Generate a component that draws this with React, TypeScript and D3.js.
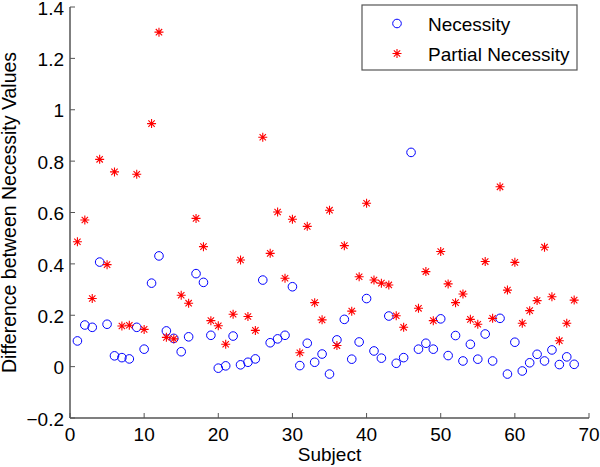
import React from "react";
import * as d3 from "d3";

const subjects: number[] = Array.from({ length: 68 }, (_, i) => i + 1);

const necessity: number[] = [
  0.100, 0.162, 0.153, 0.407, 0.165, 0.042, 0.035, 0.030, 0.153, 0.068,
  0.325, 0.431, 0.139, 0.110, 0.058, 0.116, 0.362, 0.328, 0.122, -0.006,
  0.003, 0.119, 0.007, 0.017, 0.030, 0.337, 0.093, 0.108, 0.122, 0.311,
  0.004, 0.091, 0.017, 0.049, -0.029, 0.104, 0.184, 0.029, 0.096, 0.265,
  0.061, 0.033, 0.197, 0.013, 0.035, 0.834, 0.068, 0.091, 0.068, 0.186,
  0.043, 0.121, 0.022, 0.087, 0.029, 0.127, 0.022, 0.188, -0.029, 0.095,
  -0.017, 0.015, 0.048, 0.022, 0.065, 0.008, 0.038, 0.009,
];

const partialNecessity: (number | null)[] = [
  0.486, 0.571, 0.265, 0.807, 0.397, 0.758, 0.158, 0.161, 0.749, 0.145,
  0.946, 1.302, 0.114, 0.108, 0.278, 0.247, 0.577, 0.467, 0.179, 0.159,
  0.087, 0.204, 0.415, 0.195, 0.141, 0.893, 0.441, 0.602, 0.344, 0.574,
  0.054, 0.546, 0.249, 0.182, 0.609, 0.082, 0.471, 0.216, 0.350, 0.636,
  0.337, 0.325, 0.318, 0.198, 0.153, null, 0.227, 0.370, 0.179, 0.448,
  0.322, 0.249, 0.283, 0.184, 0.165, 0.409, 0.188, 0.700, 0.298, 0.406,
  0.169, 0.218, 0.257, 0.465, 0.272, 0.101, 0.169, 0.259,
];

const xTicks: number[] = [0, 10, 20, 30, 40, 50, 60, 70];
const yTicks: number[] = [-0.2, 0, 0.2, 0.4, 0.6, 0.8, 1, 1.2, 1.4];
const legendLabels: string[] = ["Necessity", "Partial Necessity"];

const W = 600;
const H = 467;
const FONT = "'Liberation Sans', Arial, sans-serif";

function Star({ cx, cy, r, color }: { cx: number; cy: number; r: number; color: string }) {
  const d = r * Math.SQRT1_2;
  const path = `M${cx - r},${cy}L${cx + r},${cy}M${cx},${cy - r}L${cx},${cy + r}M${cx - d},${cy - d}L${cx + d},${cy + d}M${cx - d},${cy + d}L${cx + d},${cy - d}`;
  return <path d={path} stroke={color} strokeWidth={1.1} fill="none" />;
}

export default function App() {
  const x = d3.scaleLinear().domain([0, 70]).range([70, 589]);
  const y = d3.scaleLinear().domain([-0.2, 1.4]).range([418, 7]);
  const axisColor = "#555";
  const fmt = (v: number) => (Math.abs(v) < 1e-9 ? "0" : v < 0 ? "\u2212" + d3.format("")(Math.abs(v)) : d3.format("")(v));

  return (
    <svg width={W} height={H} style={{ position: "absolute", left: 0, top: 0, background: "#fff" }} fontFamily={FONT}>
      <rect x={0} y={0} width={W} height={H} fill="#fff" />
      {/* axes */}
      <line x1={x(0)} x2={x(0)} y1={y(-0.2)} y2={y(1.4)} stroke={axisColor} strokeWidth={1.5} />
      <line x1={x(0)} x2={x(70)} y1={y(-0.2)} y2={y(-0.2)} stroke={axisColor} strokeWidth={1.5} />
      {yTicks.map((t) => (
        <g key={"yt" + t}>
          <line x1={x(0)} x2={x(0) + 5} y1={y(t)} y2={y(t)} stroke={axisColor} strokeWidth={1} />
          <text x={x(0) - 6} y={y(t) + 1} dy="0.35em" textAnchor="end" fontSize={19} fill="#000">
            {fmt(t)}
          </text>
        </g>
      ))}
      {xTicks.map((t) => (
        <g key={"xt" + t}>
          <line x1={x(t)} x2={x(t)} y1={y(-0.2)} y2={y(-0.2) - 5} stroke={axisColor} strokeWidth={1} />
          <text x={x(t)} y={441} textAnchor="middle" fontSize={19} fill="#000">
            {t}
          </text>
        </g>
      ))}
      <text x={(x(0) + x(70)) / 2} y={461} textAnchor="middle" fontSize={19} fill="#000">
        Subject
      </text>
      <text
        transform={`translate(15.5,${(y(-0.2) + y(1.4)) / 2}) rotate(-90)`}
        textAnchor="middle"
        fontSize={19.5}
        fill="#000"
      >
        Difference between Necessity Values
      </text>

      {/* data */}
      {subjects.map((s, i) => (
        <circle key={"c" + s} cx={x(s)} cy={y(necessity[i])} r={4.3} fill="none" stroke="#0000ff" strokeWidth={1} />
      ))}
      {subjects.map((s, i) => {
        const v = partialNecessity[i];
        if (v === null) return null;
        return <Star key={"s" + s} cx={x(s)} cy={y(v)} r={4.5} color="#ff0000" />;
      })}

      {/* legend */}
      <rect x={362} y={5} width={215} height={65} fill="#fff" stroke={axisColor} strokeWidth={1.2} />
      <circle cx={397} cy={23.5} r={4.3} fill="none" stroke="#0000ff" strokeWidth={1} />
      <Star cx={397} cy={53.5} r={4.5} color="#ff0000" />
      <text x={428} y={30.5} fontSize={19} fill="#000">{legendLabels[0]}</text>
      <text x={428} y={60.5} fontSize={19} fill="#000">{legendLabels[1]}</text>
    </svg>
  );
}
